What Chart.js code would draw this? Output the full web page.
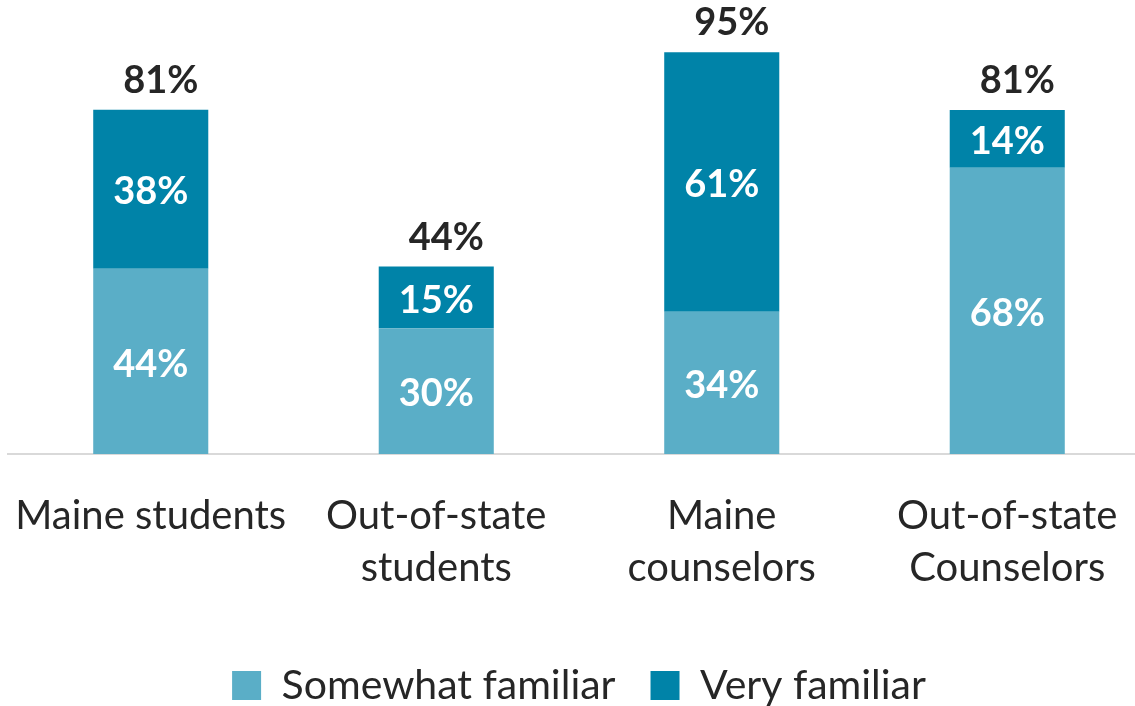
<!DOCTYPE html>
<html>
<head>
<meta charset="utf-8">
<script src="https://cdn.jsdelivr.net/npm/chart.js@4.4.1/dist/chart.umd.min.js"></script>
<style>
html,body{margin:0;padding:0;background:#fff;overflow:hidden;}
#wrap{width:1150px;height:706px;position:relative;}
</style>
</head>
<body>
<div id="wrap"><canvas id="famChart"></canvas></div>
<script>
// categories and stacked shares
let categories = [['Maine students'], ['Out-of-state', 'students'], ['Maine', 'counselors'], ['Out-of-state', 'Counselors']];
let somewhat = [43.8, 29.7, 33.6, 67.7];
let very = [37.6, 14.6, 61.4, 13.6];
let totals = [81, 44, 95, 81];

let pct = v => Math.round(v) + '%';

// white labels inside segments, black totals above the stack
let barLabels = {
	id: 'barLabels',
	afterDatasetsDraw(chart){
		let ctx = chart.ctx;
		ctx.save();
		ctx.textAlign = 'center';
		ctx.textBaseline = 'middle';
		ctx.font = 'bold 38px Lato';
		ctx.fillStyle = '#ffffff';
		chart.data.datasets.forEach((ds, i) => {
			chart.getDatasetMeta(i).data.forEach((bar, j) => {
				let mid = (bar.y + bar.base) / 2 + 3;
				ctx.fillText(pct(ds.data[j]), bar.x, mid);
			});
		});
		ctx.fillStyle = '#262626';
		let top = chart.getDatasetMeta(1).data;
		top.forEach((bar, j) => {
			ctx.fillText(totals[j] + '%', bar.x + 10, bar.y - 29);
		});
		ctx.restore();
	}
};

let ctx = document.getElementById('famChart');
let famChart = new Chart(ctx, {
	type: 'bar',
	data: {
		labels: categories,
		datasets: [{
			label: 'Somewhat familiar',
			data: somewhat,
			backgroundColor: '#5aaec7',
			barPercentage: 0.403,
			categoryPercentage: 1
		}, {
			label: 'Very familiar',
			data: very,
			backgroundColor: '#0083a8',
			barPercentage: 0.403,
			categoryPercentage: 1
		}]
	},
	options: {
		responsive: true,
		maintainAspectRatio: false,
		animation: false,
		layout: {padding: {top: 31, left: 8, right: 0, bottom: -10}},
		plugins: {
			legend: {
				position: 'bottom',
				labels: {
					boxWidth: 29,
					boxHeight: 29,
					padding: 35,
					color: '#262626',
					font: {family: 'Lato', size: 41}
				}
			},
			tooltip: {enabled: false}
		},
		scales: {
			x: {
				stacked: true,
				grid: {display: false, drawTicks: false},
				border: {display: true, color: '#d9d9d9', width: 2},
				ticks: {
					color: '#262626',
					padding: 36,
					maxRotation: 0,
					autoSkip: false,
					font: {family: 'Lato', size: 40, lineHeight: 1.3}
				},
				afterFit(scale){
					scale.paddingLeft = 0;
					scale.paddingRight = 0;
				}
			},
			y: {
				stacked: true,
				display: false,
				min: 0,
				max: 100
			}
		}
	},
	plugins: [barLabels]
});
</script>
</body>
</html>
